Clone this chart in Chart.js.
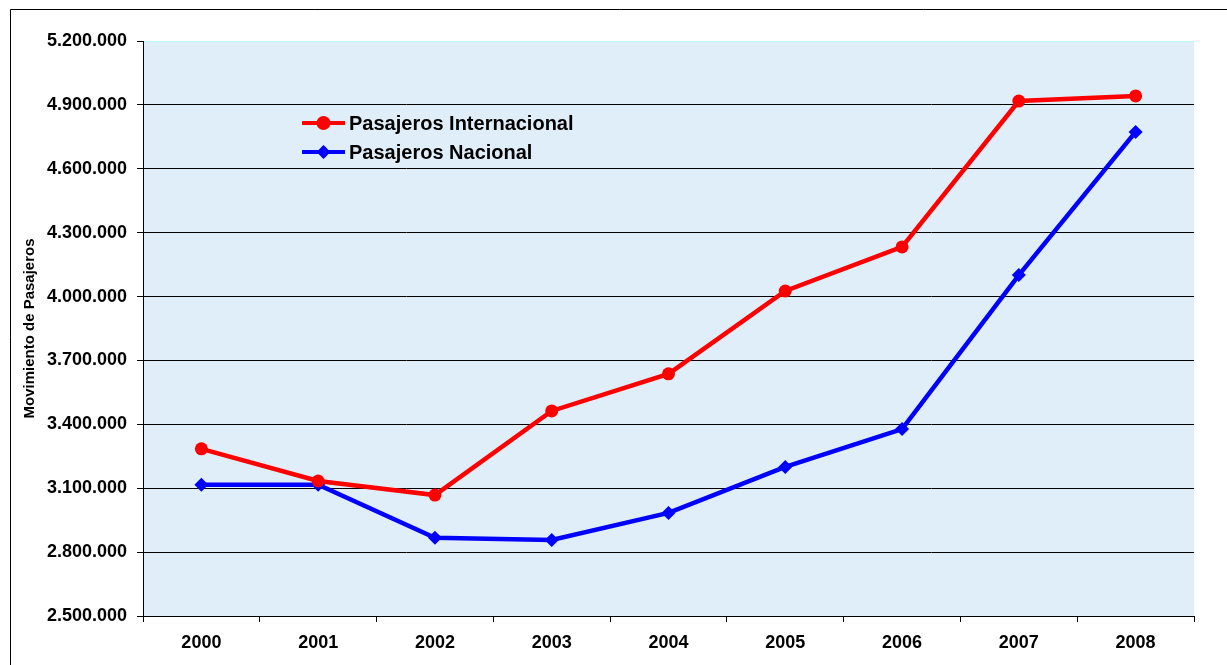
<!DOCTYPE html>
<html>
<head>
<meta charset="utf-8">
<script src="https://cdn.jsdelivr.net/npm/chart.js@4.4.1/dist/chart.umd.min.js"></script>
<style>
  html, body { margin: 0; padding: 0; background: #ffffff; }
  #wrap { width: 1227px; height: 665px; position: relative; }
</style>
</head>
<body>
<div id="wrap"><canvas id="c" width="1227" height="665"></canvas></div>
<script>
const categories = ['2000','2001','2002','2003','2004','2005','2006','2007','2008'];
const internacional = [3285000, 3134000, 3068000, 3463000, 3637000, 4026000, 4233000, 4918000, 4942000];
const nacional = [3116000, 3116000, 2867000, 2857000, 2984000, 3200000, 3378000, 4101000, 4773000];
const seriesNames = ['Pasajeros Internacional', 'Pasajeros Nacional'];
const yTitle = 'Movimiento de Pasajeros';
const yMin = 2500000, yMax = 5200000, yStep = 300000;

const FONT = '"Liberation Sans", Arial, Helvetica, sans-serif';

function fmt(v) {
  return String(Math.round(v)).replace(/\B(?=(\d{3})+(?!\d))/g, '.');
}

const bgPlugin = {
  id: 'bg',
  beforeDraw(chart) {
    const {ctx, chartArea: a} = chart;
    ctx.save();
    ctx.fillStyle = '#e0eef9';
    ctx.fillRect(a.left, a.top, a.right - a.left, a.bottom - a.top);
    ctx.strokeStyle = '#000000';
    ctx.lineWidth = 1;
    ctx.beginPath();
    ctx.moveTo(10.5, 700);
    ctx.lineTo(10.5, 9.5);
    ctx.lineTo(1300, 9.5);
    ctx.stroke();
    ctx.restore();
  }
};

const legendPlugin = {
  id: 'customLegend',
  afterDatasetsDraw(chart) {
    const {ctx} = chart;
    const items = chart.data.datasets;
    const x0 = 302, x1 = 345, tx = 349;
    const ys = [123, 152];
    ctx.save();
    items.forEach((ds, i) => {
      const y = ys[i];
      ctx.strokeStyle = ds.borderColor;
      ctx.lineWidth = 4;
      ctx.beginPath();
      ctx.moveTo(x0, y);
      ctx.lineTo(x1, y);
      ctx.stroke();
      ctx.fillStyle = ds.borderColor;
      const cx = (x0 + x1) / 2;
      if (ds.pointStyle === 'rectRot') {
        const r = 7;
        ctx.beginPath();
        ctx.moveTo(cx, y - r);
        ctx.lineTo(cx + r, y);
        ctx.lineTo(cx, y + r);
        ctx.lineTo(cx - r, y);
        ctx.closePath();
        ctx.fill();
      } else {
        ctx.beginPath();
        ctx.arc(cx, y, 7, 0, Math.PI * 2);
        ctx.fill();
      }
      ctx.fillStyle = '#000000';
      ctx.font = 'bold 20px ' + FONT;
      ctx.textBaseline = 'middle';
      ctx.textAlign = 'left';
      ctx.fillText(ds.label, tx, y + 1);
    });
    ctx.restore();
  }
};

new Chart(document.getElementById('c'), {
  type: 'line',
  data: {
    labels: categories,
    datasets: [
      {
        label: seriesNames[0],
        data: internacional,
        borderColor: '#ff0000',
        backgroundColor: '#ff0000',
        borderWidth: 4.5,
        pointStyle: 'circle',
        pointRadius: 6.5,
        pointBorderWidth: 0,
        tension: 0
      },
      {
        label: seriesNames[1],
        data: nacional,
        borderColor: '#0000ff',
        backgroundColor: '#0000ff',
        borderWidth: 4.5,
        pointStyle: 'rectRot',
        pointRadius: 7,
        pointBorderWidth: 0,
        tension: 0
      }
    ]
  },
  options: {
    responsive: false,
    animation: false,
    devicePixelRatio: 1,
    layout: { padding: { left: 0, right: 33, top: 41, bottom: 0 } },
    plugins: {
      legend: { display: false },
      tooltip: { enabled: false }
    },
    scales: {
      x: {
        offset: true,
        grid: {
          offset: true,
          drawOnChartArea: true,
          color: (c) => c.index === categories.length ? '#b8f4f8' : 'rgba(0,0,0,0)',
          tickColor: '#000000',
          tickLength: 6,
          lineWidth: 1
        },
        border: { display: true, color: '#000000', width: 1 },
        ticks: {
          color: '#000000',
          font: { family: FONT, size: 18, weight: 'bold' },
          padding: 10,
          maxRotation: 0
        },
        afterFit(scale) { scale.height = 49; }
      },
      y: {
        min: yMin,
        max: yMax,
        grid: {
          color: (c) => c.tick && c.tick.value === yMax ? '#b8f4f8' : '#000000',
          tickColor: '#000000',
          tickLength: 6,
          lineWidth: 1
        },
        border: { display: true, color: '#000000', width: 1 },
        ticks: {
          stepSize: yStep,
          color: '#000000',
          font: { family: FONT, size: 18, weight: 'bold' },
          padding: 10,
          callback: (v) => fmt(v)
        },
        title: {
          display: true,
          text: yTitle,
          color: '#000000',
          font: { family: FONT, size: 15, weight: 'bold' },
          padding: { top: 21, bottom: 0 }
        },
        afterFit(scale) { scale.width = 143; }
      }
    }
  },
  plugins: [bgPlugin, legendPlugin]
});
</script>
</body>
</html>
